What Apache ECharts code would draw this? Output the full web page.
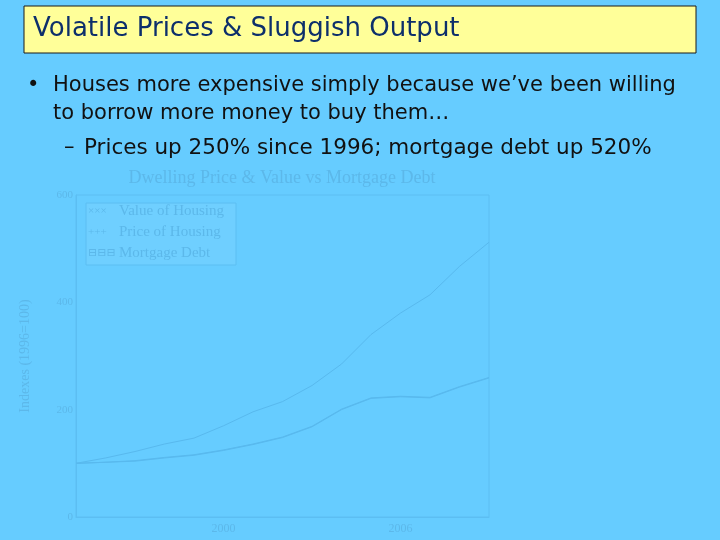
<!DOCTYPE html>
<html>
<head>
<meta charset="utf-8">
<script src="https://cdn.jsdelivr.net/npm/echarts@6/dist/echarts.min.js"></script>
<style>
  html, body { margin: 0; padding: 0; background: #66ccff; }
  #chart { width: 720px; height: 540px; }
</style>
</head>
<body>
<div id="chart"></div>
<script>
    // 数据 (1996=100)
    var years = [1995, 1996, 1997, 1998, 1999, 2000, 2001, 2002, 2003, 2004, 2005, 2006, 2007, 2008, 2009];
    var mortgageDebt = [100, 110, 122, 136, 147, 170, 196, 215, 245, 285, 340, 380, 414, 467, 512];
    var priceOfHousing = [100, 102, 104, 110, 115, 124, 135, 148, 168, 200, 221, 224, 222, 242, 259];
    var valueOfHousing = [100, 102, 105, 111, 116, 125, 136, 149, 169, 201, 222, 225, 223, 243, 260];
    var yearLabels = [2000, 2006];
    var legendNames = ['Value of Housing', 'Price of Housing', 'Mortgage Debt'];
    var legendMarks = ['\u00d7\u00d7\u00d7', '+++', '\u229f\u229f\u229f'];

    function pairs(vals) {
        return years.map(function (y, i) { return [y, vals[i]]; });
    }

    var faint = '#5cb8ea',
        lineColor = '#58b9ee',
        serif = '"Liberation Serif", "DejaVu Serif", serif',
        slideFont = '"DejaVu Sans", "Noto Sans", sans-serif';

    var chart = echarts.init(document.getElementById('chart'));

    // 图例 (手绘)
    var legendItems = [{
        type: 'rect',
        shape: { x: 86, y: 203, width: 150, height: 62 },
        style: { fill: '#6fcfff', stroke: '#5cbef2', lineWidth: 1 }
    }];
    legendNames.forEach(function (name, i) {
        legendItems.push({
            type: 'text', x: 88, y: 206 + i * 21,
            style: { text: legendMarks[i], fill: faint, font: '11px ' + serif }
        });
        legendItems.push({
            type: 'text', x: 119, y: 204 + i * 21,
            style: { text: name, fill: faint, font: '15px ' + serif }
        });
    });

    var option = {
        backgroundColor: '#66ccff',
        animation: false,
        title: {
            text: 'Dwelling Price & Value vs Mortgage Debt',
            left: 277,
            textAlign: 'center',
            top: 164,
            textStyle: { color: faint, fontFamily: serif, fontWeight: 'normal', fontSize: 18 }
        },
        grid: {
            left: 76, right: 231, top: 195, bottom: 23,
            show: true, borderColor: '#5cbef2', borderWidth: 1
        },
        xAxis: {
            type: 'value',
            min: 1995, max: 2009, interval: 1,
            axisLine: { lineStyle: { color: '#5cbef2' } },
            axisTick: { show: false },
            splitLine: { show: false },
            axisLabel: {
                color: faint, fontFamily: serif, fontSize: 12, margin: 6,
                formatter: function (v) { return yearLabels.indexOf(v) >= 0 ? String(v) : ''; }
            }
        },
        yAxis: {
            type: 'value',
            min: 0, max: 600, interval: 200,
            name: 'Indexes (1996=100)',
            nameLocation: 'middle',
            nameGap: 44,
            nameTextStyle: { color: faint, fontFamily: serif, fontSize: 14 },
            axisLine: { show: true, lineStyle: { color: '#5cbef2' } },
            axisTick: { show: false },
            splitLine: { show: false },
            axisLabel: { color: faint, fontFamily: serif, fontSize: 11, margin: 3 }
        },
        series: [{
            name: legendNames[0],
            type: 'line',
            symbol: 'none',
            lineStyle: { color: lineColor, width: 1 },
            data: pairs(valueOfHousing)
        }, {
            name: legendNames[1],
            type: 'line',
            symbol: 'none',
            lineStyle: { color: lineColor, width: 1 },
            data: pairs(priceOfHousing)
        }, {
            name: legendNames[2],
            type: 'line',
            symbol: 'none',
            lineStyle: { color: lineColor, width: 1 },
            data: pairs(mortgageDebt)
        }],
        graphic: [{
            type: 'rect',
            shape: { x: 24, y: 6, width: 672, height: 47 },
            style: { fill: '#ffff99', stroke: '#1a1a1a', lineWidth: 1 }
        }, {
            type: 'text', x: 33, y: 16,
            style: { text: 'Volatile Prices & Sluggish Output', fill: '#0d2f6b', font: '26px ' + slideFont }
        }, {
            type: 'text', x: 27, y: 75,
            style: { text: '\u2022', fill: '#111', font: '21px ' + slideFont }
        }, {
            type: 'text', x: 53, y: 75,
            style: { text: 'Houses more expensive simply because we\u2019ve been willing', fill: '#111', font: '21px ' + slideFont }
        }, {
            type: 'text', x: 53, y: 103,
            style: { text: 'to borrow more money to buy them\u2026', fill: '#111', font: '21px ' + slideFont }
        }, {
            type: 'text', x: 64, y: 137,
            style: { text: '\u2013', fill: '#111', font: '21px ' + slideFont }
        }, {
            type: 'text', x: 84, y: 137,
            style: { text: 'Prices up 250% since 1996; mortgage debt up 520%', fill: '#111', font: '21.5px ' + slideFont }
        }, {
            type: 'group',
            children: legendItems
        }]
    };

    chart.setOption(option);
</script>
</body>
</html>
